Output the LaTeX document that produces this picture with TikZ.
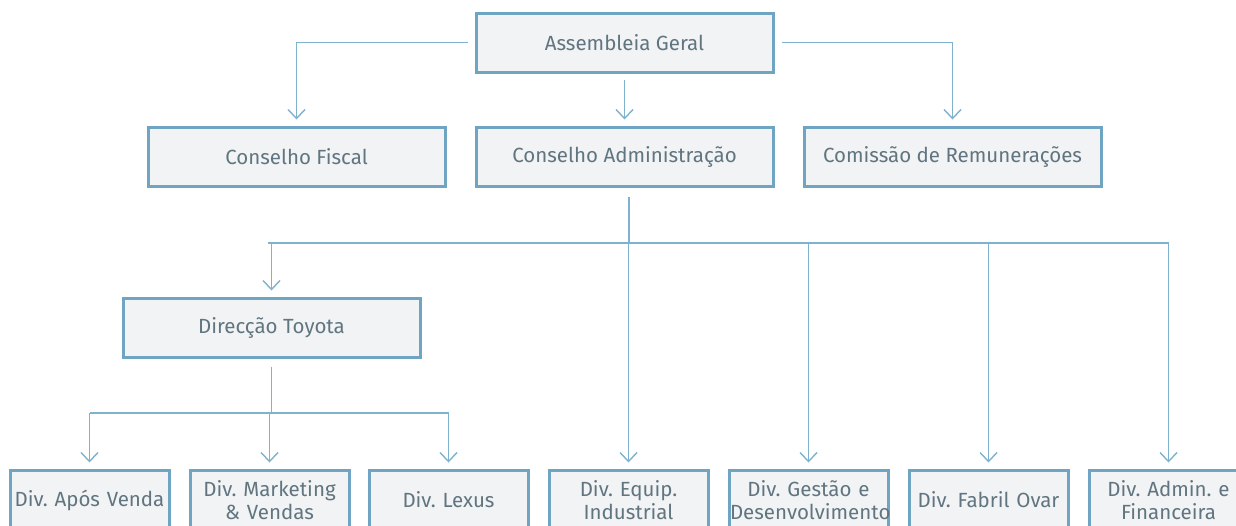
\documentclass[tikz,border=0pt]{standalone}
\usepackage{fontspec}
\setmainfont{Fira Sans}
\frenchspacing
\usetikzlibrary{arrows.meta}
\definecolor{linkblue}{HTML}{7FB2CF}
\definecolor{boxblue}{HTML}{6FA5C2}
\definecolor{boxfill}{HTML}{F2F3F5}
\definecolor{txtgrey}{HTML}{607580}
\tikzset{
  orgbox/.style={draw=boxblue, line width=3pt, fill=boxfill, text=txtgrey,
    minimum width=297pt, minimum height=59pt, inner sep=0pt,
    font=\fontsize{20.5}{23}\selectfont},
  divbox/.style={orgbox, minimum width=159pt, minimum height=60pt,
    text width=157pt, align=center},
  link/.style={draw=linkblue, line width=1.4pt},
  arrow/.style={link, -{Straight Barb[length=9pt,width=17pt,line width=1.4pt]}, shorten >=6pt}
}
\begin{document}
\begin{tikzpicture}[x=1pt,y=-1pt]
\useasboundingbox (0,0) rectangle (1236,525);
% top levels
\node[orgbox] (ag) at (624.5,42.5) {Assembleia Geral};
\node[orgbox] (cf) at (296.5,156.5) {Conselho Fiscal};
\node[orgbox] (ca) at (624.5,156.5) {Conselho Administração};
\node[orgbox] (cr) at (952.5,156.5) {Comissão de Remunerações};
\node[orgbox] (dt) at (271.5,327.5) {Direcção Toyota};

% bottom divisions
\foreach \x/\n/\t in {89.5/b1/{Div. Após Venda}, 269.5/b2/{Div. Marketing\\\& Vendas},
  448.5/b3/{Div. Lexus}, 628.5/b4/{Div. Equip.\\Industrial},
  808.5/b5/{Div. Gestão e\\Desenvolvimento}, 988.5/b6/{Div. Fabril Ovar},
  1168.5/b7/{Div. Admin. e\\Financeira}}
  \node[divbox] (\n) at (\x,500) {\t};

% arrows from Assembleia Geral
\draw[arrow, shorten <=7pt] (ag.west) -| (cf.north);
\draw[arrow, shorten <=7pt] (ag.east) -| (cr.north);
\draw[arrow, shorten <=6pt] (ag.south) -- (ca.north);

% bus below Conselho Administracao
\coordinate (busL) at (268,243);
\coordinate (busR) at (1169,243);
\coordinate (caout) at ([xshift=4.5pt]ca.south);
\draw[link] (busL) -- (busR);
\draw[link, shorten <=9pt] (caout) -- (caout |- busL);
\draw[arrow] (dt.north |- busL) -- (dt.north);
\foreach \n in {b4,b5,b6,b7}
  \draw[arrow] (\n.north |- busL) -- (\n.north);

% bus below Direccao Toyota
\coordinate (subL) at (90,413);
\coordinate (subR) at (449,413);
\draw[link] (subL) -- (subR);
\draw[link, shorten <=8pt] (dt.south) -- (dt.south |- subL);
\foreach \n in {b1,b2,b3}
  \draw[arrow] (\n.north |- subL) -- (\n.north);
\end{tikzpicture}
\end{document}
